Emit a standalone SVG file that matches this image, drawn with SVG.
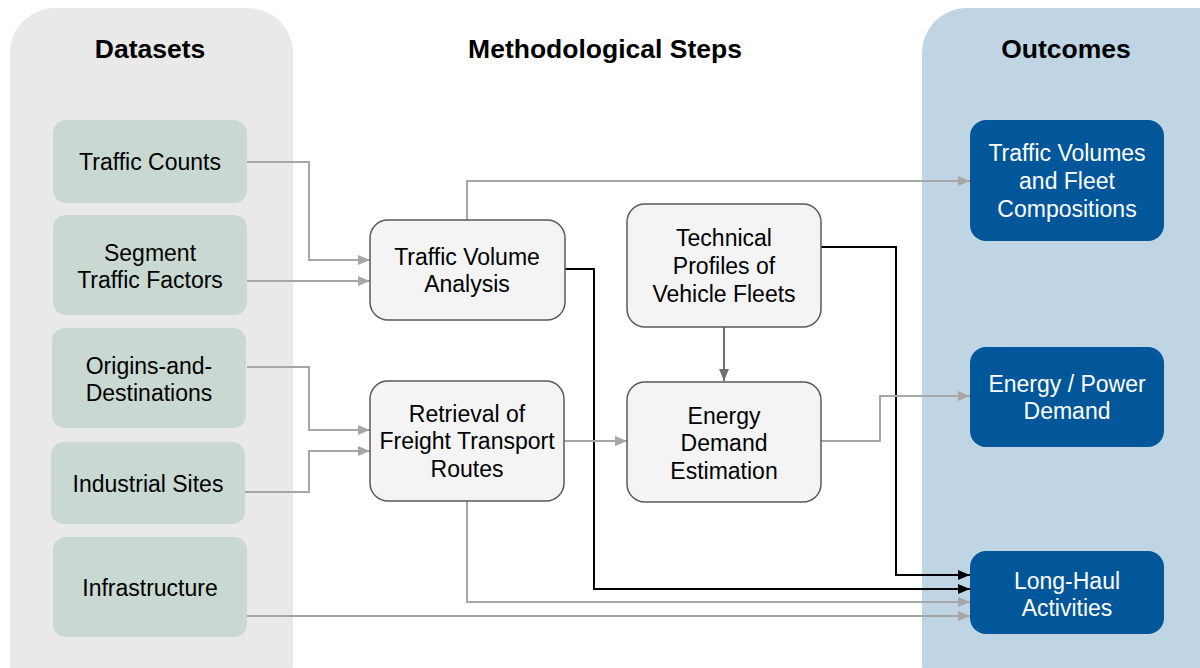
<svg xmlns="http://www.w3.org/2000/svg" width="1200" height="668" viewBox="0 0 1200 668">
<defs>
<style>
text{font-family:"Liberation Sans",Arial,sans-serif;font-size:23px;text-anchor:middle;fill:#000}
.h{font-weight:bold;font-size:26.5px}
.ds{fill:#c9d9d1}
.ms{fill:#f4f4f4;stroke:#595959;stroke-width:1.5}
.oc{fill:#02579a}
.w{fill:#fff}
.g{fill:none;stroke:#a6a6a6;stroke-width:2}
.k{fill:none;stroke:#000;stroke-width:2}
.d{fill:none;stroke:#6f6f6f;stroke-width:2}
</style>
<marker id="ag" markerWidth="12" markerHeight="10" refX="12" refY="5" orient="auto" markerUnits="userSpaceOnUse"><path d="M0,0L12,5L0,10z" fill="#a6a6a6"/></marker>
<marker id="ak" markerWidth="12" markerHeight="10" refX="12" refY="5" orient="auto" markerUnits="userSpaceOnUse"><path d="M0,0L12,5L0,10z" fill="#000"/></marker>
<marker id="ad" markerWidth="12" markerHeight="10" refX="12" refY="5" orient="auto" markerUnits="userSpaceOnUse"><path d="M0,0L12,5L0,10z" fill="#6f6f6f"/></marker>
</defs>
<rect width="1200" height="668" fill="#fff"/>
<g id="panel-datasets"><rect x="10" y="8" width="283" height="700" rx="45" fill="#e9e9e9"/><text class="h" x="150" y="58">Datasets</text></g>
<g id="panel-methods"><text class="h" x="605" y="58">Methodological Steps</text></g>
<g id="panel-outcomes"><rect x="922" y="8" width="320" height="700" rx="45" fill="#c0d5e4"/><text class="h" x="1066" y="58">Outcomes</text></g>

<g id="connectors">
<path class="g" d="M247,162H309V260H370" marker-end="url(#ag)"/>
<path class="g" d="M247,281H370" marker-end="url(#ag)"/>
<path class="g" d="M247,367H309V430H370" marker-end="url(#ag)"/>
<path class="g" d="M245,492H309V451H370" marker-end="url(#ag)"/>
<path class="g" d="M467,220V181H970" marker-end="url(#ag)"/>
<path class="k" d="M565,269H594V589H970" marker-end="url(#ak)"/>
<path class="k" d="M821,247H896V575H970" marker-end="url(#ak)"/>
<path class="g" d="M467,501V602H970" marker-end="url(#ag)"/>
<path class="g" d="M247,616H970" marker-end="url(#ag)"/>
<path class="g" d="M564,441H627" marker-end="url(#ag)"/>
<path class="g" d="M821,441H880V396H970" marker-end="url(#ag)"/>
<path class="d" d="M724,327V381" marker-end="url(#ad)"/>
</g>

<g id="traffic-counts"><rect class="ds" x="53" y="120" width="194" height="83" rx="13"/><text x="150" y="170">Traffic Counts</text></g>
<g id="segment-traffic-factors"><rect class="ds" x="53" y="215" width="194" height="100" rx="13"/><text x="150" y="261">Segment</text><text x="150" y="288">Traffic Factors</text></g>
<g id="origins-destinations"><rect class="ds" x="52" y="328" width="194" height="100" rx="13"/><text x="149" y="374">Origins-and-</text><text x="149" y="401">Destinations</text></g>
<g id="industrial-sites"><rect class="ds" x="51" y="442" width="194" height="82" rx="13"/><text x="148" y="492">Industrial Sites</text></g>
<g id="infrastructure"><rect class="ds" x="53" y="537" width="194" height="100" rx="13"/><text x="150" y="596">Infrastructure</text></g>

<g id="traffic-volume-analysis"><rect class="ms" x="370" y="220" width="195" height="100" rx="18"/><text x="467" y="265">Traffic Volume</text><text x="467" y="292">Analysis</text></g>
<g id="retrieval-routes"><rect class="ms" x="370" y="381" width="194" height="120" rx="18"/><text x="467" y="422">Retrieval of</text><text x="467" y="449">Freight Transport</text><text x="467" y="477">Routes</text></g>
<g id="technical-profiles"><rect class="ms" x="627" y="204" width="194" height="123" rx="18"/><text x="724" y="246">Technical</text><text x="724" y="274">Profiles of</text><text x="724" y="302">Vehicle Fleets</text></g>
<g id="energy-demand-estimation"><rect class="ms" x="627" y="382" width="194" height="120" rx="18"/><text x="724" y="424">Energy</text><text x="724" y="451">Demand</text><text x="724" y="479">Estimation</text></g>

<g id="traffic-volumes-fleet"><rect class="oc" x="970" y="120" width="194" height="121" rx="16"/><text class="w" x="1067" y="161">Traffic Volumes</text><text class="w" x="1067" y="189">and Fleet</text><text class="w" x="1067" y="217">Compositions</text></g>
<g id="energy-power-demand"><rect class="oc" x="970" y="347" width="194" height="100" rx="16"/><text class="w" x="1067" y="392">Energy / Power</text><text class="w" x="1067" y="419">Demand</text></g>
<g id="long-haul-activities"><rect class="oc" x="970" y="551" width="194" height="83" rx="16"/><text class="w" x="1067" y="589">Long-Haul</text><text class="w" x="1067" y="616">Activities</text></g>
</svg>
